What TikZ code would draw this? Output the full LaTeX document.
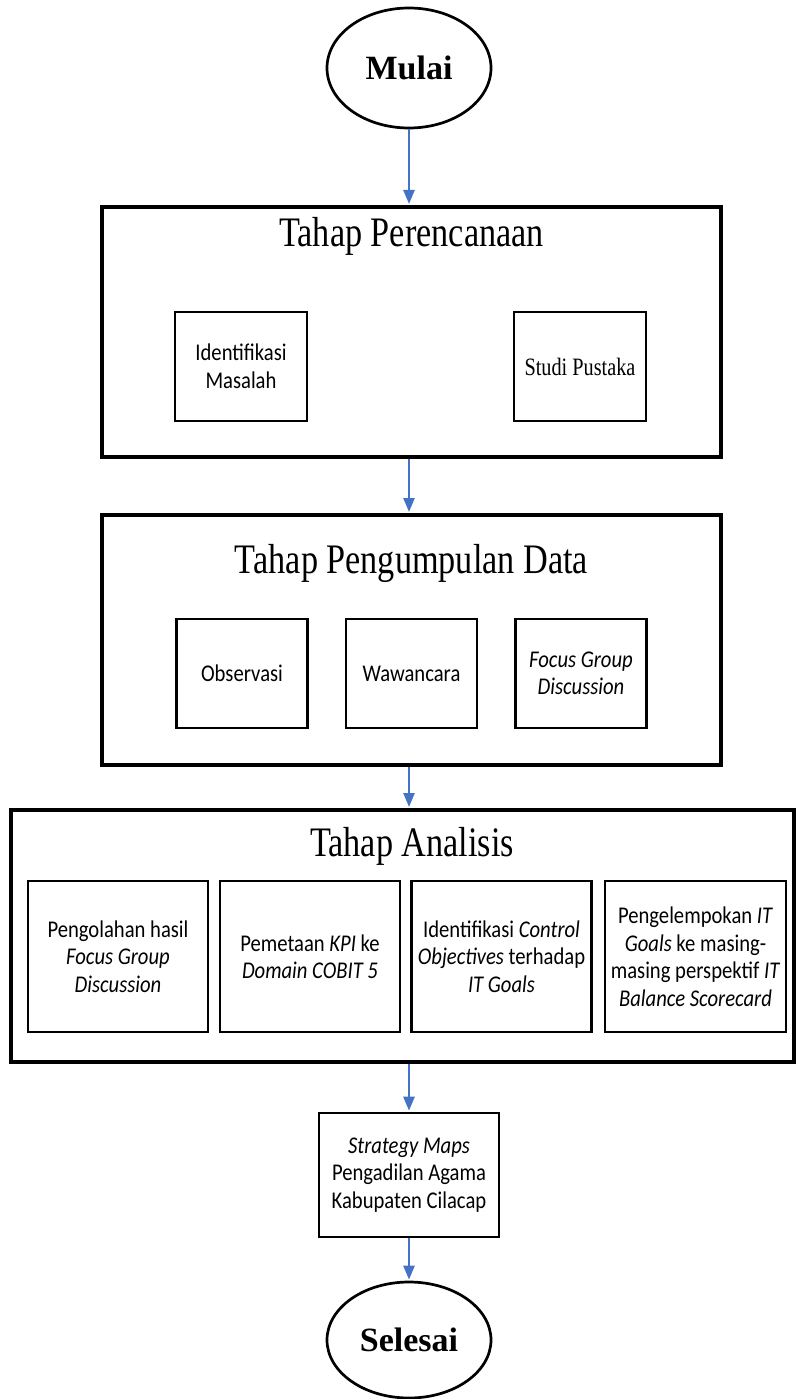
\documentclass[tikz,border=0pt]{standalone}
\usepackage{fontspec}
\setmainfont{Carlito}[FakeStretch=0.86]
\newfontfamily\titlefont{Liberation Serif}[FakeStretch=0.815]
\newfontfamily\spfont{Liberation Serif}[FakeStretch=0.81]
\newfontfamily\termfont{Liberation Serif}
\usetikzlibrary{arrows.meta,shapes.geometric}
\definecolor{arrowblue}{RGB}{68,114,196}
\tikzset{
  outerbox/.style={draw,line width=4pt,rectangle,inner sep=0pt,minimum width=619pt,minimum height=250pt},
  innerbox/.style={draw,line width=2.6pt,rectangle,inner sep=0pt,align=center,font=\fontsize{24}{27.5}\selectfont},
  terminal/.style={draw,line width=2.7pt,ellipse,inner sep=0pt,font=\termfont\bfseries\fontsize{34}{36}\selectfont},
  titletext/.style={inner sep=0pt,anchor=base,font=\titlefont\fontsize{42}{44}\selectfont},
  arr/.style={draw=arrowblue,line width=2.5pt,-{Triangle[length=14pt,width=11pt]},shorten >=1pt}
}
\begin{document}
\begin{tikzpicture}[x=1pt,y=-1pt]
\useasboundingbox (0,0) rectangle (797,1399);
% start
\node[terminal,minimum width=164pt,minimum height=120pt] (mulai) at (409,68) {Mulai};
% stage 1
\node[outerbox] (box1) at (411.5,332) {};
\node[titletext] (t1) at (411.5,246) {Tahap Perencanaan};
\node[innerbox,minimum width=132pt,minimum height=109pt] (idm) at (241,366.5) {Identifikasi\\Masalah};
\node[innerbox,minimum width=132pt,minimum height=109pt,font=\spfont\fontsize{25}{27.5}\selectfont] (sp) at (580,366.5) {Studi Pustaka};
% stage 2
\node[outerbox] (box2) at (411.5,640) {};
\node[titletext] (t2) at (411.5,573) {Tahap Pengumpulan Data};
\node[innerbox,minimum width=131pt,minimum height=109pt] (obs) at (242,673.5) {Observasi};
\node[innerbox,minimum width=131pt,minimum height=109pt] (waw) at (411.5,673.5) {Wawancara};
\node[innerbox,minimum width=131pt,minimum height=109pt] (fgd) at (581,673.5) {\textit{Focus Group}\\\textit{Discussion}};
% stage 3
\node[outerbox,minimum width=783pt,minimum height=252pt] (box3) at (402.5,936) {};
\node[titletext] (t3) at (412,856) {Tahap Analisis};
\node[innerbox,minimum width=180pt,minimum height=151pt] (a1) at (118,956.5) {Pengolahan hasil\\\textit{Focus Group}\\\textit{Discussion}};
\node[innerbox,minimum width=180pt,minimum height=151pt] (a2) at (310,956.5) {Pemetaan \textit{KPI} ke\\\textit{Domain COBIT 5}};
\node[innerbox,minimum width=180pt,minimum height=151pt] (a3) at (501.5,956.5) {Identifikasi \textit{Control}\\\textit{Objectives} terhadap\\\textit{IT Goals}};
\node[innerbox,minimum width=181pt,minimum height=151pt] (a4) at (695.5,956.5) {Pengelempokan \textit{IT}\\\textit{Goals} ke masing-\\masing perspektif \textit{IT}\\\textit{Balance Scorecard}};
% result
\node[innerbox,minimum width=180pt,minimum height=124pt] (sm) at (409,1175) {\textit{Strategy Maps}\\Pengadilan Agama\\Kabupaten Cilacap};
% end
\node[terminal,minimum width=164pt,minimum height=116pt] (selesai) at (409,1340) {Selesai};
% connectors
\draw[arr] (mulai.south) -- (mulai.south |- box1.north);
\draw[arr] (mulai.south |- box1.south) -- (mulai.south |- box2.north);
\draw[arr] (mulai.south |- box2.south) -- (mulai.south |- box3.north);
\draw[arr] (mulai.south |- box3.south) -- (sm.north);
\draw[arr] (sm.south) -- (selesai.north);
\end{tikzpicture}
\end{document}
